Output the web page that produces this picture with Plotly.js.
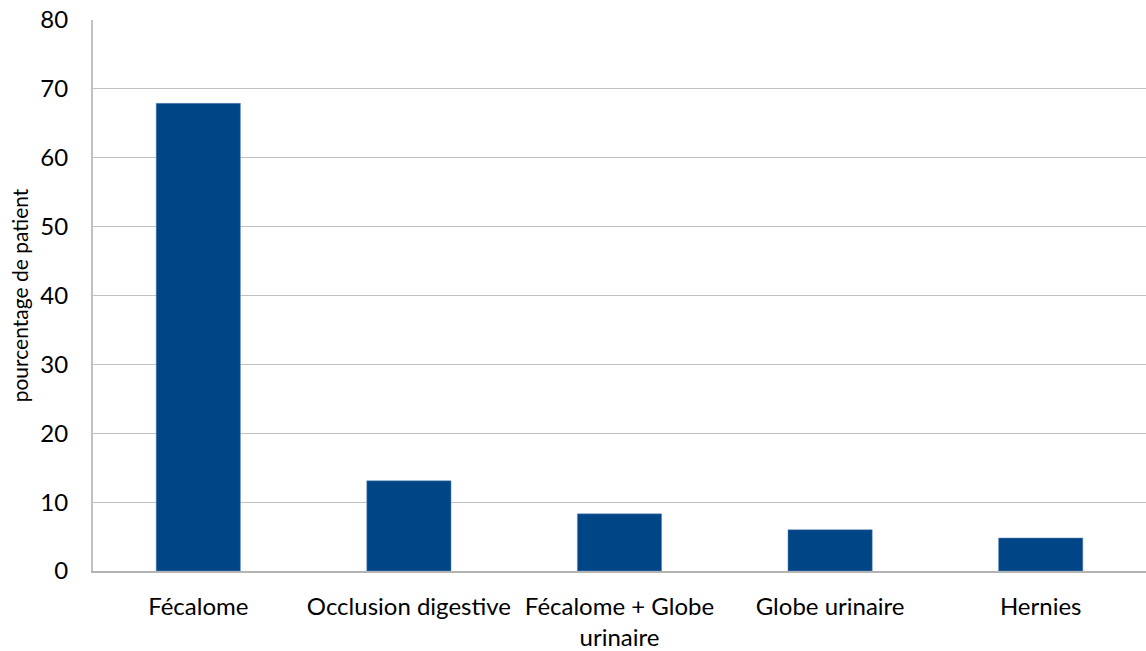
<!DOCTYPE html>
<html>
<head>
<meta charset="utf-8">
<script src="https://cdn.plot.ly/plotly-3.0.1.min.js"></script>
<style>html,body{margin:0;padding:0;background:#fff;}#chart{width:1146px;height:651px;}</style>
</head>
<body>
<div id="chart"></div>
<script>
const categories = ["Fécalome", "Occlusion digestive", "Fécalome + Globe<br>urinaire", "Globe urinaire", "Hernies"];
const values = [67.9, 13.1, 8.3, 6.0, 4.8];
const yTicks = [0, 10, 20, 30, 40, 50, 60, 70, 80];

const FONT = "Lato, 'Open Sans', sans-serif";

const trace = {
  type: "bar",
  x: categories,
  y: values,
  marker: {color: "#004586", line: {color: "#6a8fbf", width: 0.5}},
  hoverinfo: "x+y"
};

const layout = {
  width: 1146,
  height: 651,
  margin: {l: 93, r: 0, t: 20, b: 80},
  paper_bgcolor: "#ffffff",
  plot_bgcolor: "#ffffff",
  bargap: 0.6,
  showlegend: false,
  font: {family: FONT, color: "#000000"},
  xaxis: {
    tickfont: {size: 24, family: FONT},
    showline: true,
    linecolor: "#b3b3b3",
    linewidth: 2,
    ticks: "outside",
    ticklen: 13,
    tickcolor: "rgba(0,0,0,0)",
    showgrid: false,
    automargin: false
  },
  yaxis: {
    range: [0, 80],
    tickvals: yTicks,
    ticktext: yTicks.map(String),
    tickfont: {size: 24, family: FONT},
    showgrid: true,
    gridcolor: "#c0c0c0",
    gridwidth: 1,
    showline: true,
    linecolor: "#c0c0c0",
    linewidth: 2,
    ticks: "outside",
    ticklen: 18,
    tickcolor: "rgba(0,0,0,0)",
    zeroline: false,
    automargin: false,
    title: {text: "pourcentage de patient", font: {size: 21, family: FONT}, standoff: 6}
  }
};

Plotly.newPlot("chart", [trace], layout, {displayModeBar: false, staticPlot: true});
</script>
</body>
</html>
